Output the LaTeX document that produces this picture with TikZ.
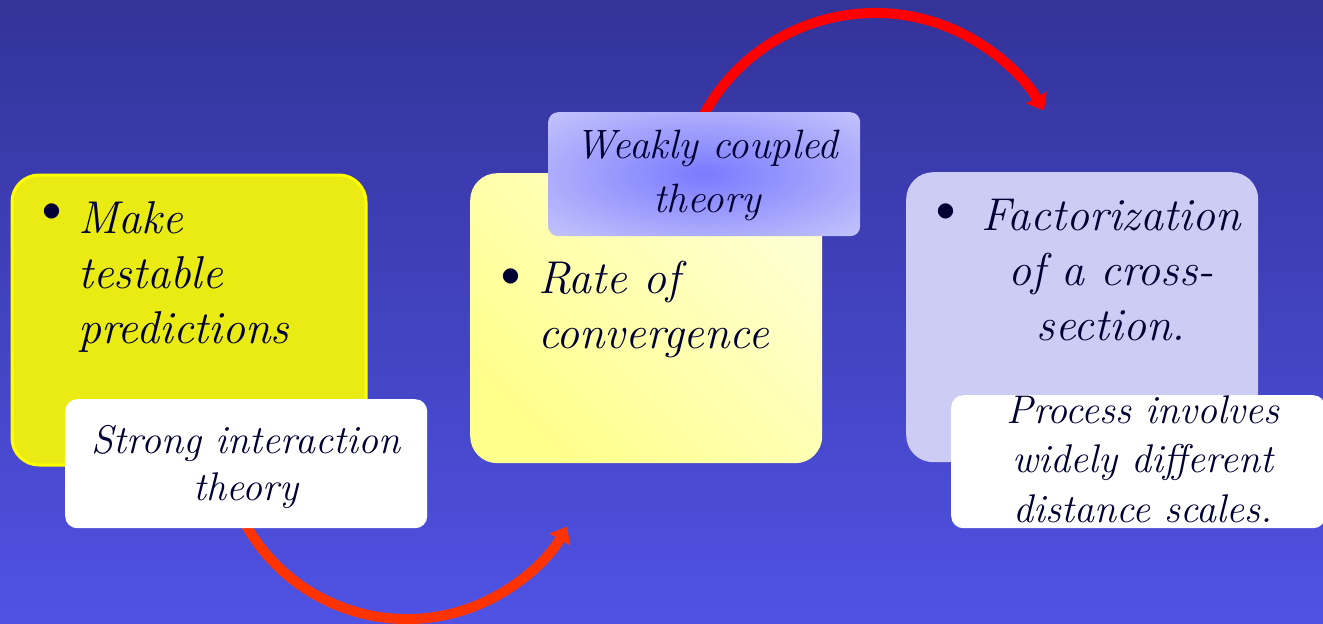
\documentclass[tikz,border=0pt]{standalone}
\usepackage{fontspec}
\usetikzlibrary{arrows.meta}
\definecolor{bgtop}{RGB}{51,51,153}
\definecolor{bgbot}{RGB}{80,82,228}
\definecolor{ybox}{RGB}{235,235,20}
\definecolor{yedge}{RGB}{255,255,0}
\definecolor{pale}{RGB}{255,255,210}
\definecolor{sat}{RGB}{255,255,140}
\definecolor{lav}{RGB}{204,204,245}
\definecolor{wkin}{RGB}{122,122,255}
\definecolor{wkout}{RGB}{222,222,250}
\definecolor{ink}{RGB}{0,0,51}
\definecolor{arrA}{RGB}{255,51,0}
\definecolor{arrB}{RGB}{255,0,0}
\pgfdeclareradialshading{wkglow}{\pgfpoint{0bp}{0bp}}{color(0bp)=(wkin); color(48bp)=(wkout); color(70bp)=(wkout)}
\tikzset{
  bigbox/.style={rounded corners=27pt, inner sep=0pt, anchor=north west},
  tagbox/.style={rounded corners=12pt, fill=white, inner sep=0pt, anchor=north west},
  bigtxt/.style={font=\fontsize{46}{55}\selectfont\itshape, text=ink, inner sep=0pt},
  smalltxt/.style={font=\fontsize{40}{47}\selectfont\itshape, text=ink, inner sep=0pt, align=center},
  bul/.style={font=\fontsize{68}{70}\selectfont, text=ink, inner sep=0pt},
  flow/.style={line width=10pt, -{Triangle[length=15pt,width=23pt]}},
}
\begin{document}
\begin{tikzpicture}[x=1pt,y=1pt]
\useasboundingbox (0,0) rectangle (1323,-624);
\shade[top color=bgtop, bottom color=bgbot] (0,0) rectangle (1323,-624);
% arc centres
\coordinate (c1) at (407,-434);
\coordinate (c2) at (875,-208);
% connectors (drawn under the boxes)
\draw[flow, arrA] (c1) ++(205:185) arc[start angle=205, end angle=330, radius=185];
\draw[flow, arrB] (c2) ++(152:195) arc[start angle=152, end angle=30, radius=195];
% boxes
\node[bigbox, fill=ybox, draw=yedge, line width=3pt, minimum width=354pt, minimum height=290pt] (yb) at (10.5,-173.5) {};
\node[tagbox, minimum width=362pt, minimum height=129pt] (tag1) at (65,-399) {};
\node[bigbox, top color=pale, bottom color=sat, shading angle=-45, minimum width=352pt, minimum height=290pt] (mb) at (470,-173) {};
\node[rounded corners=10pt, inner sep=0pt, anchor=north west, shading=wkglow, minimum width=312pt, minimum height=124pt] (wk) at (548,-112) {};
\node[bigbox, fill=lav, minimum width=352pt, minimum height=290pt] (rb) at (906,-172) {};
\node[tagbox, minimum width=374pt, minimum height=133pt] (tag2) at (951,-395) {};
% texts
\node[bul] (b1) at (52,-217) {\textbullet};
\node[bigtxt, align=left, anchor=base west] (t1) at (78,-343) {Make\\testable\\predictions};
\node[smalltxt, anchor=base] (t2) at (246,-500) {Strong interaction\\theory};
\node[bul] (b3) at (511,-282) {\textbullet};
\node[bigtxt, align=left, anchor=base west] (t3) at (538,-348) {Rate of\\convergence};
\node[smalltxt, font=\fontsize{41}{54}\selectfont\itshape, anchor=base] (t4) at (707,-212) {Weakly coupled\\theory};
\node[bul] (b5) at (946,-217) {\textbullet};
\node[bigtxt, align=center, anchor=base] (t5) at (1111,-340) {Factorization\\of a cross-\\section.};
\node[smalltxt, font=\fontsize{40}{49.5}\selectfont\itshape, anchor=base] (t6) at (1143,-522) {Process involves\\widely different\\distance scales.};
\end{tikzpicture}
\end{document}
